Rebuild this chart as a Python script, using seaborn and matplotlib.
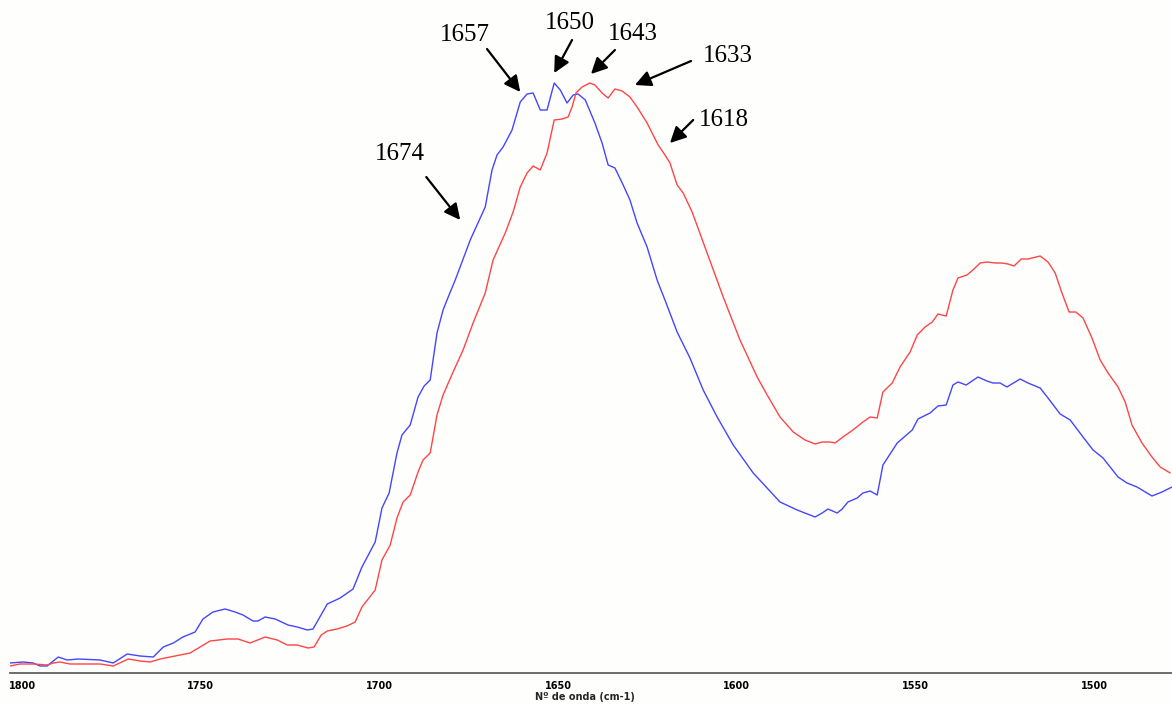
import numpy as np
import pandas as pd
import matplotlib
matplotlib.use("Agg")
import matplotlib.pyplot as plt
import seaborn as sns

# ---- data (wavenumber cm-1, absorbance in arbitrary units) ----
blue_wn = [1803.4, 1799.7, 1796.9, 1795.0, 1793.0, 1789.9, 1787.4, 1784.3, 1778.2, 1774.5,
           1770.6, 1767.0, 1763.3, 1760.5, 1757.7, 1755.0, 1751.6, 1749.4, 1746.6, 1743.2,
           1740.4, 1738.2, 1735.4, 1734.0, 1732.0, 1729.2, 1725.6, 1723.0, 1720.2, 1718.6,
           1714.6, 1711.0, 1707.4, 1704.9, 1701.2, 1699.3, 1697.3, 1695.1, 1693.7, 1691.4,
           1689.2, 1687.5, 1685.8, 1685.0, 1683.9, 1682.2, 1681.1, 1678.8, 1676.9, 1674.6,
           1670.4, 1668.5, 1667.1, 1665.4, 1662.9, 1660.6, 1658.7, 1657.0, 1655.0, 1653.1,
           1651.1, 1649.4, 1647.5, 1645.8, 1644.4, 1642.4, 1639.7, 1637.7, 1636.0, 1634.1,
           1631.8, 1629.9, 1627.9, 1625.1, 1622.3, 1620.1, 1616.7, 1613.1, 1609.4, 1605.5,
           1601.0, 1595.4, 1587.9, 1583.1, 1578.1, 1576.1, 1574.5, 1571.9, 1570.5, 1568.9,
           1566.3, 1564.7, 1562.7, 1560.7, 1559.1, 1555.1, 1550.9, 1549.3, 1545.9, 1543.7,
           1541.4, 1539.5, 1538.1, 1535.8, 1532.5, 1530.0, 1528.3, 1526.3, 1524.4, 1520.7,
           1518.5, 1515.1, 1512.9, 1509.5, 1506.7, 1503.1, 1500.3, 1497.5, 1493.3, 1490.8,
           1488.0, 1483.8, 1481.0, 1478.2]
blue_abs = [10, 11, 10, 7, 7, 16, 13, 14, 13, 10,
            19, 17, 16, 26, 30, 36, 41, 54, 61, 64,
            61, 58, 52, 52, 56, 54, 48, 46, 43, 44,
            69, 75, 84, 106, 131, 165, 180, 220, 238, 248,
            276, 287, 293, 313, 340, 363, 373, 393, 411, 433,
            466, 503, 518, 526, 543, 571, 579, 580, 563, 563,
            590, 583, 570, 578, 579, 573, 550, 530, 508, 505,
            488, 473, 450, 426, 393, 373, 341, 315, 283, 256,
            228, 200, 171, 163, 156, 160, 164, 160, 164, 171,
            175, 180, 182, 178, 208, 230, 243, 254, 260, 267,
            268, 288, 291, 288, 296, 292, 290, 290, 286, 294,
            290, 285, 275, 259, 253, 236, 223, 215, 196, 190,
            186, 177, 181, 186]

red_wn = [1803.4, 1800.6, 1796.9, 1793.0, 1791.3, 1789.4, 1786.6, 1782.9, 1778.2, 1774.5,
          1770.3, 1767.0, 1764.2, 1761.4, 1758.6, 1755.8, 1753.0, 1750.2, 1747.4, 1742.6,
          1739.6, 1736.2, 1732.0, 1728.6, 1725.8, 1723.0, 1720.0, 1718.3, 1716.3, 1714.6,
          1711.9, 1709.1, 1706.8, 1704.9, 1701.2, 1699.3, 1697.0, 1695.1, 1693.4, 1691.4,
          1689.2, 1687.8, 1685.8, 1683.9, 1682.2, 1679.4, 1676.6, 1673.8, 1670.4, 1668.2,
          1665.7, 1664.8, 1662.6, 1660.6, 1658.7, 1657.0, 1655.0, 1653.1, 1651.1, 1648.9,
          1647.2, 1646.1, 1645.0, 1643.3, 1641.1, 1639.7, 1637.7, 1636.0, 1634.1, 1632.1,
          1629.9, 1627.9, 1625.1, 1622.0, 1620.1, 1618.7, 1616.7, 1615.0, 1612.5, 1608.9,
          1603.8, 1599.1, 1594.3, 1591.5, 1587.9, 1584.2, 1580.9, 1578.1, 1576.1, 1573.9,
          1572.5, 1570.3, 1567.5, 1564.7, 1562.7, 1560.7, 1559.1, 1556.5, 1554.3, 1551.5,
          1549.5, 1547.3, 1545.3, 1543.7, 1541.4, 1539.5, 1538.1, 1535.6, 1533.9, 1531.9,
          1530.0, 1527.7, 1525.8, 1524.1, 1522.4, 1520.4, 1518.5, 1515.1, 1512.9, 1510.9,
          1509.0, 1507.0, 1505.1, 1503.1, 1500.6, 1498.3, 1496.1, 1493.3, 1491.3, 1489.4,
          1486.6, 1483.8, 1481.5, 1478.7]
red_abs = [7, 9, 9, 8, 10, 11, 9, 9, 9, 7,
           14, 12, 11, 14, 16, 18, 20, 26, 32, 34,
           34, 30, 36, 33, 28, 28, 25, 26, 38, 42,
           44, 47, 51, 66, 83, 113, 128, 155, 171, 178,
           201, 213, 220, 258, 278, 301, 323, 350, 380, 413,
           433, 440, 461, 486, 500, 507, 503, 520, 553, 554,
           556, 566, 580, 586, 590, 588, 580, 575, 584, 582,
           576, 566, 550, 528, 518, 510, 488, 480, 461, 426,
           376, 333, 296, 278, 256, 241, 233, 229, 231, 231,
           230, 236, 243, 251, 256, 255, 281, 290, 306, 321,
           338, 346, 351, 359, 357, 383, 395, 398, 403, 410,
           411, 410, 410, 409, 407, 414, 414, 417, 411, 400,
           380, 361, 361, 355, 335, 313, 300, 286, 271, 248,
           230, 216, 206, 200]

tick_values = [1800, 1750, 1700, 1650, 1600, 1550, 1500]
x_label = "Nº de onda (cm-1)"

# peak annotations: label, text position, arrow tail, arrow head (data coords)
ann_labels = ["1674", "1657", "1650", "1643", "1633", "1618"]
ann_text_xy = [(1694.2, 519), (1676.0, 638), (1646.6, 650), (1629.0, 639), (1602.4, 617), (1603.6, 553)]
ann_tail_xy = [(1686.9, 496), (1669.9, 624), (1646.1, 633), (1634.1, 623), (1612.8, 612), (1612.2, 553)]
ann_head_xy = [(1677.4, 453), (1660.6, 581), (1651.1, 600), (1640.8, 599), (1628.5, 588), (1618.7, 530)]

df = pd.concat([
    pd.DataFrame({"wn": blue_wn, "abs": blue_abs, "s": "blue"}),
    pd.DataFrame({"wn": red_wn, "abs": red_abs, "s": "red"}),
])

sns.set_style("white")
plt.rcParams["font.family"] = ["DejaVu Sans"]

bg = "#fefefd"
fig = plt.figure(figsize=(11.72, 7.04), dpi=100, facecolor=bg)
ax = fig.add_axes([10 / 1172, 31 / 704, 1 - 10 / 1172, 673 / 704])
ax.set_facecolor(bg)

sns.lineplot(data=df, x="wn", y="abs", hue="s",
             palette={"blue": "#4545ff", "red": "#ff4545"},
             linewidth=1.0, legend=False, ax=ax, estimator=None, sort=True)

ax.set_xlim(1803.4, 1478.2)
ax.set_ylim(0, 673)
ax.set_xticks(tick_values)
ax.set_xticklabels([str(t) for t in tick_values], fontsize=7, fontweight="bold")
ax.set_yticks([])
ax.set_ylabel("")
ax.set_xlabel(x_label, fontsize=7, fontweight="bold", labelpad=3)
ax.xaxis.set_label_coords(0.495, -0.028)

for side in ["top", "right", "left"]:
    ax.spines[side].set_visible(False)
ax.spines["bottom"].set_color("#606060")
ax.spines["bottom"].set_linewidth(1.3)
ax.tick_params(axis="x", direction="out", length=3, width=1, color="#606060",
               pad=3, labelcolor="black")

for lab, txy, tail, head in zip(ann_labels, ann_text_xy, ann_tail_xy, ann_head_xy):
    ax.annotate("", xy=head, xytext=tail,
                arrowprops=dict(arrowstyle="-|>", color="black", lw=1.6,
                                mutation_scale=24, shrinkA=0, shrinkB=0))
    ax.text(txy[0], txy[1], lab, ha="center", va="center", fontsize=18,
            family=["Liberation Serif", "DejaVu Serif"], color="black")

fig.savefig("out.png", dpi=100, facecolor=bg)
